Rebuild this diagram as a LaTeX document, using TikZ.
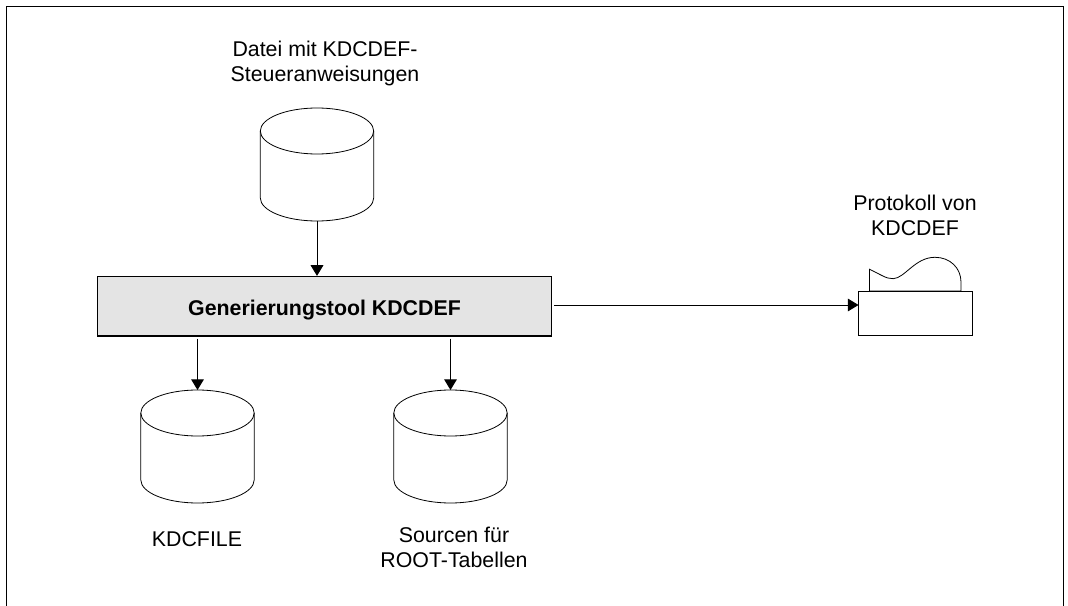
\documentclass[tikz,border=0pt]{standalone}
\usepackage{fontspec}
\setmainfont{Liberation Sans}
\usetikzlibrary{arrows.meta}
\tikzset{
  px/.style={x=0.75pt,y=-0.75pt},
  frameline/.style={line width=1pt,black},
  thin outline/.style={line width=0.6pt,black},
  toolbox/.style={draw=black,line width=0.85pt,fill=black!10.5,minimum width=340.5pt,minimum height=44.6pt,inner sep=0pt,font=\fontsize{16}{18.4}\selectfont\bfseries},
  anchorbox/.style={minimum width=85pt,minimum height=84.75pt,inner sep=0pt,outer sep=0pt},
  printerbox/.style={draw=black,line width=0.75pt,minimum width=85.5pt,minimum height=33pt,inner sep=0pt,outer sep=0pt},
  lbl/.style={align=center,inner sep=0pt,anchor=base,font=\fontsize{16}{18.4}\selectfont},
  flow/.style={line width=0.75pt,-{Triangle[length=8pt,width=9.5pt]},shorten <=1.5pt}
}
\newcommand{\drum}[1]{%
  \draw[thin outline] (#1.north west)++(0,-17.25pt)
    arc[start angle=180,end angle=0,x radius=42.5pt,y radius=17.25pt]
    -- ++(0,-50.25pt)
    arc[start angle=0,end angle=-180,x radius=42.5pt,y radius=17.25pt]
    -- cycle;
  \draw[thin outline] (#1.north west)++(0,-17.25pt)
    arc[start angle=180,end angle=360,x radius=42.5pt,y radius=17.25pt];
}
\begin{document}
\begin{tikzpicture}[px]
\useasboundingbox (0,0) rectangle (1068,606);
\draw[frameline] (6.3,606) -- (6.3,6.2) -- (1063.3,6.2) -- (1063.3,606);

\node[toolbox] (tool) at (324.5,306.2) {\raisebox{-2.5pt}[\height][\depth]{Generierungstool KDCDEF}};
\node[anchorbox] (d1) at (317,164.5) {};
\node[anchorbox] (d2) at (197.5,446.5) {};
\node[anchorbox] (d3) at (450.5,446.5) {};
\drum{d1}\drum{d2}\drum{d3}

\node[printerbox] (pr) at (915.5,313) {};
\coordinate (prin) at ([yshift=6pt]pr.west);
\draw[thin outline] (869.5,291) -- (869.5,269.3)
  .. controls (880,274) and (886,279) .. (893.3,278.7)
  .. controls (905,278) and (915,257.3) .. (935,257.3)
  .. controls (950,257.3) and (961,268) .. (961,282) -- (961,291) -- cycle;

\node[lbl] (t1) at (325,81.5) {Datei mit KDCDEF-\\Steueranweisungen};
\node[lbl] (t2) at (197,546) {KDCFILE};
\node[lbl] (t3) at (454,567) {Sourcen für\\ROOT-Tabellen};
\node[lbl] (t4) at (915,235.5) {Protokoll von\\KDCDEF};

\draw[flow,shorten <=0pt] (d1.south) -- (tool.north -| d1.south);
\draw[flow] (tool.south -| d2.north) -- (d2.north);
\draw[flow] (tool.south -| d3.north) -- (d3.north);
\draw[flow] (tool.east |- prin) -- (prin);
\end{tikzpicture}
\end{document}
